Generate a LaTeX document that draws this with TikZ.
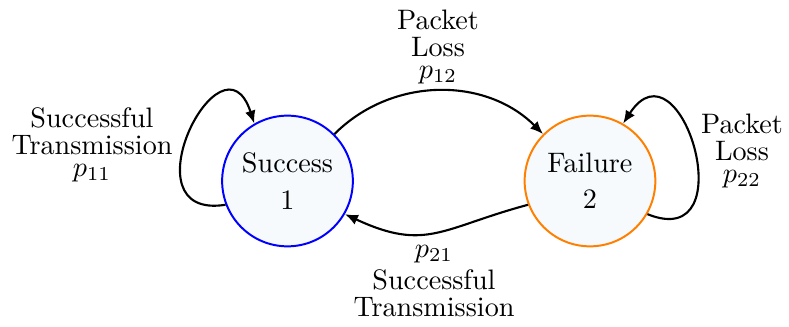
\documentclass[tikz,border=0pt]{standalone}
\usetikzlibrary{arrows.meta}
\definecolor{stblue}{RGB}{0,0,255}
\definecolor{storange}{RGB}{255,128,0}
\definecolor{stfill}{RGB}{246,250,253}
\begin{document}
\begin{tikzpicture}[x=0.355pt,y=-0.355pt,
  state/.style={circle, draw, line width=0.7pt, fill=stfill,
    minimum size=46.4pt, inner sep=0pt, align=center},
  trans/.style={line width=0.75pt, -{Latex[length=4.6pt,width=3.8pt]}},
  lbl/.style={align=center, inner sep=0pt, anchor=base,
    font=\fontsize{10}{9.6}\selectfont}]
  \useasboundingbox (0,0) rectangle (789,327);

  % the two states
  \node[state, draw=stblue]   (s1) at (287.5,181) {Success\\[0.9pt]1};
  \node[state, draw=storange] (s2) at (590,181)   {Failure\\[0.9pt]2};

  % transitions
  \draw[trans] (s1.45) to[out=45,in=135] (s2.135);
  \draw[trans] (s2.201) to[out=195,in=-25,looseness=1.25] (s1.-30);
  \draw[trans] (s1.201) to[out=189,in=108,looseness=3.1] (s1.120);
  \draw[trans] (s2.-30) to[out=-22,in=57,looseness=2.9] (s2.60);

  % transition labels (anchored at the baseline of the last line)
  \node[lbl] (l12) at (438,78)  {Packet\\Loss\\[-2pt]$p_{12}$};
  \node[lbl] (l11) at (92,176)  {Successful\\Transmission\\[-2pt]$p_{11}$};
  \node[lbl] (l22) at (742,182) {Packet\\Loss\\[-2pt]$p_{22}$};
  \node[lbl] (l21) at (434,317) {$p_{21}$\\[2pt]Successful\\Transmission};
\end{tikzpicture}
\end{document}
